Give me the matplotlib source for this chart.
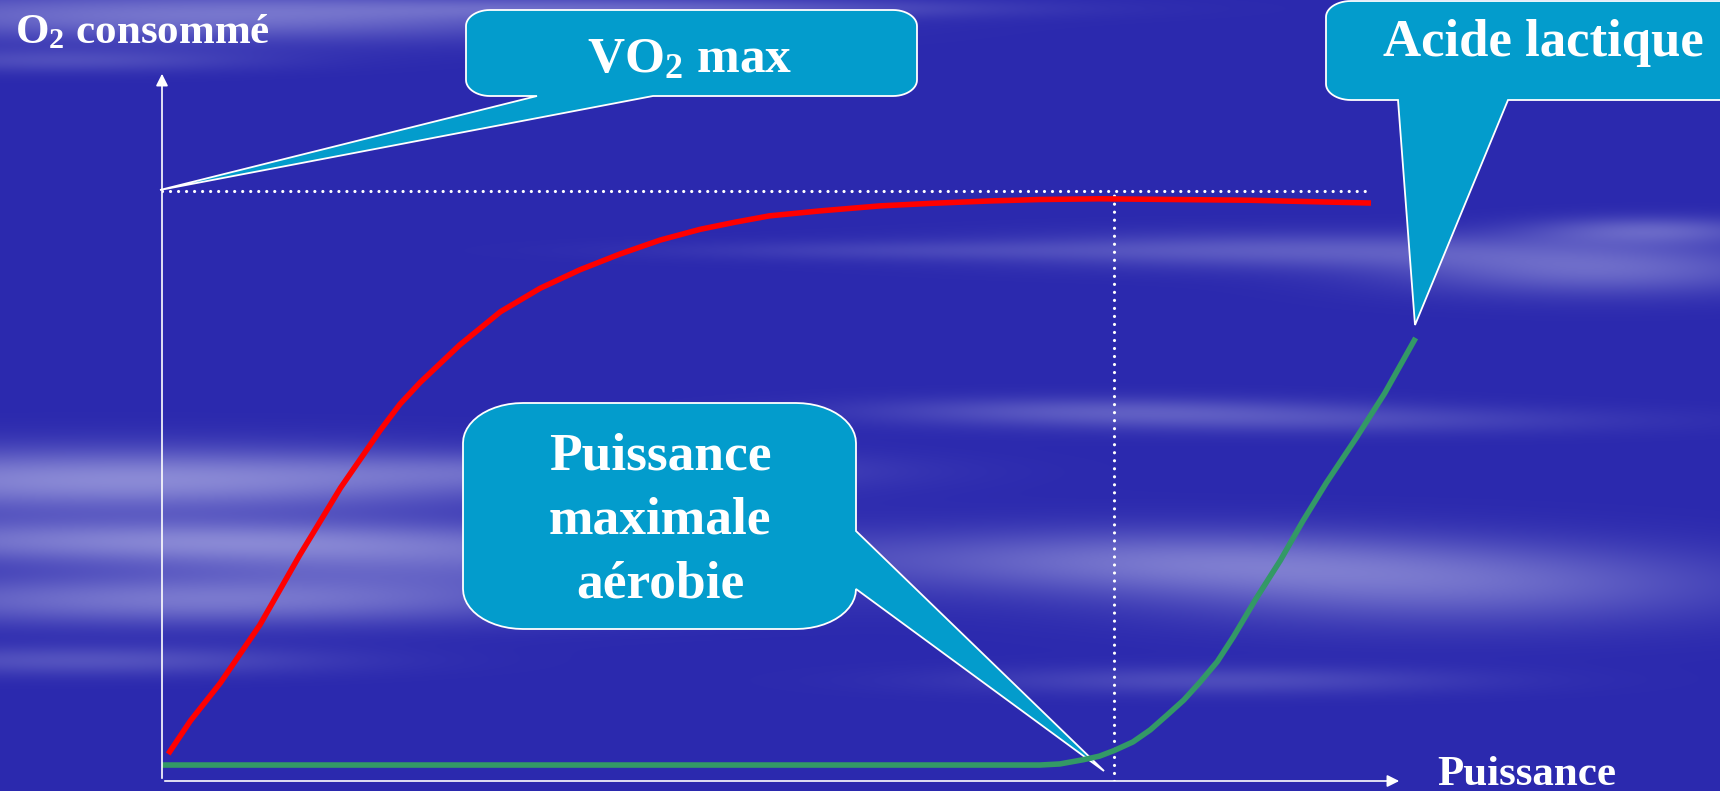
import numpy as np
import matplotlib.pyplot as plt
from matplotlib.patches import Polygon

plt.rcParams['font.family'] = ['Liberation Serif', 'DejaVu Serif']
plt.rcParams['mathtext.fontset'] = 'custom'
plt.rcParams['mathtext.rm'] = 'Liberation Serif:bold'
plt.rcParams['mathtext.bf'] = 'Liberation Serif:bold'
plt.rcParams['mathtext.it'] = 'Liberation Serif:bold:italic'

W, H = 1720, 791

# curves, x = puissance (0-100), y = O2 consomme (0-100)
red_x = [0.5, 2.3, 4.7, 7.9, 11.1, 14.4, 17.6, 19.2, 20.8, 24.0, 27.3, 30.5,
         33.7, 36.9, 40.2, 43.4, 46.2, 49.0, 53.1, 57.9, 61.9, 66.8, 70.8,
         75.6, 87.7, 97.5]
red_y = [3.8, 8.5, 13.8, 22.0, 31.8, 41.3, 49.4, 53.1, 56.1, 61.4, 66.1, 69.4,
         72.0, 74.2, 76.2, 77.7, 78.7, 79.6, 80.3, 81.0, 81.35, 81.7, 81.9,
         82.0, 81.8, 81.4]
green_x = [0, 67.6, 70.8, 72.4, 74.3, 75.6, 76.8, 78.3, 79.7, 81.0, 82.4, 83.7,
           85.1, 86.4, 88.2, 90.2, 92.0, 93.9, 96.3, 98.6, 101.1]
green_y = [2.25, 2.25, 2.25, 2.4, 3.0, 3.5, 4.3, 5.5, 7.2, 9.2, 11.4, 13.9,
           16.8, 20.3, 25.6, 31.1, 36.6, 42.0, 48.3, 54.6, 62.4]
vo2max = 83.1
pma = 76.8

labels = {'y': r'O$_{\mathrm{2}}$ consommé', 'x': 'Puissance'}
vo2_text = r'VO$_{\mathrm{2}}$ max'
lactic_text = 'Acide lactique'
pma_lines = ['Puissance', 'maximale', 'aérobie']

fig = plt.figure(figsize=(W / 100, H / 100), dpi=100)

# cloudy blue background
bg = fig.add_axes([0, 0, 1, 1], zorder=0)
yy, xx = np.mgrid[0:H, 0:W]
field = np.zeros((H, W))
streaks = [(200, 15, 420, 25, 0.55), (700, 8, 300, 10, 0.3), (60, 60, 200, 12, 0.25),
           (120, 480, 420, 32, 0.7), (150, 540, 400, 22, 0.55), (200, 600, 380, 25, 0.55),
           (450, 560, 350, 28, 0.35), (600, 470, 260, 18, 0.25), (80, 660, 250, 15, 0.3),
           (1150, 560, 300, 32, 0.45), (1450, 585, 300, 40, 0.45), (1300, 250, 300, 18, 0.35),
           (1600, 270, 200, 25, 0.45), (1100, 410, 240, 14, 0.3), (1330, 420, 300, 14, 0.22),
           (1220, 680, 250, 14, 0.25), (900, 250, 250, 10, 0.15), (1650, 230, 120, 14, 0.4)]
for cx, cy, sx, sy, a in streaks:
    field += a * np.exp(-((xx - cx) / sx) ** 2 - ((yy - cy) / sy) ** 2)
field = np.clip(field, 0, 1)[..., None]
dark = np.array([43, 41, 174]) / 255
light = np.array([178, 178, 230]) / 255
bg.imshow(dark + (light - dark) * field, extent=[0, W, H, 0], aspect='auto')
bg.set_xlim(0, W)
bg.set_ylim(H, 0)
bg.axis('off')

# overlay in pixels for the callouts and labels
ov = fig.add_axes([0, 0, 1, 1], zorder=1)
ov.patch.set_alpha(0)
ov.set_xlim(0, W)
ov.set_ylim(H, 0)
ov.axis('off')


def arc(cx, cy, rx, ry, t0, t1):
    t = np.radians(np.linspace(t0, t1, 14))
    return list(zip(cx + rx * np.cos(t), cy + ry * np.sin(t)))


def callout(x0, y0, x1, y1, rx, ry, side, a, b, tip):
    pts = [(x0 + rx, y0), (x1 - rx, y0)]
    pts += arc(x1 - rx, y0 + ry, rx, ry, -90, 0)
    if side == 'right':
        pts += [(x1, a), tip, (x1, b)]
    pts += arc(x1 - rx, y1 - ry, rx, ry, 0, 90)
    if side == 'bottom':
        pts += [(b, y1), tip, (a, y1)]
    pts += arc(x0 + rx, y1 - ry, rx, ry, 90, 180)
    pts += arc(x0 + rx, y0 + ry, rx, ry, 180, 270)
    ov.add_patch(Polygon(pts, closed=True, facecolor='#039ccc',
                         edgecolor='white', lw=1.3, zorder=3))


callout(466, 10, 917, 96, 24, 16, 'bottom', 537, 653, (160, 190))
callout(1326, 1, 1760, 100, 25, 16, 'bottom', 1398, 1508, (1415, 325))
callout(463, 403, 856, 629, 60, 40, 'right', 531, 589, (1104, 771))

tk = dict(color='white', fontweight='bold', ha='center', va='baseline', zorder=4)
ov.text(690, 72, vo2_text, fontsize=37, **tk)
ov.text(1543, 56, lactic_text, fontsize=38, **tk)
for line, yb in zip(pma_lines, [470, 534, 598]):
    ov.text(660, yb, line, fontsize=38.5, **tk)

ov.text(15, 43, labels['y'], color='white', fontweight='bold', fontsize=31,
        ha='left', va='baseline')
ov.text(1437, 785, labels['x'], color='white', fontweight='bold', fontsize=31,
        ha='left', va='baseline')

# data axes
ax = fig.add_axes([162 / W, 10 / H, 1240 / W, 710 / H], zorder=2)
ax.patch.set_alpha(0)
ax.set_xlim(0, 100)
ax.set_ylim(0, 100)
ax.axis('off')

ax.annotate('', xy=(0, 100), xytext=(0, 0),
            arrowprops=dict(arrowstyle='-|>', color='white', lw=1.2, mutation_scale=18))
ax.annotate('', xy=(100, 0), xytext=(0, 0),
            arrowprops=dict(arrowstyle='-|>', color='white', lw=1.2, mutation_scale=18))
ax.plot([0, 97.5], [vo2max, vo2max], color='white', lw=2.3,
        linestyle=(0, (0.01, 2.5)), dash_capstyle='round')
ax.plot([pma, pma], [0, vo2max], color='white', lw=2.3,
        linestyle=(0, (0.01, 2.5)), dash_capstyle='round')
ax.plot(red_x, red_y, color='#ff0000', lw=4, solid_capstyle='butt',
        solid_joinstyle='round', clip_on=False)
ax.plot(green_x, green_y, color='#339966', lw=4, solid_capstyle='butt',
        solid_joinstyle='round', clip_on=False)

fig.savefig('out.png', dpi=100)
